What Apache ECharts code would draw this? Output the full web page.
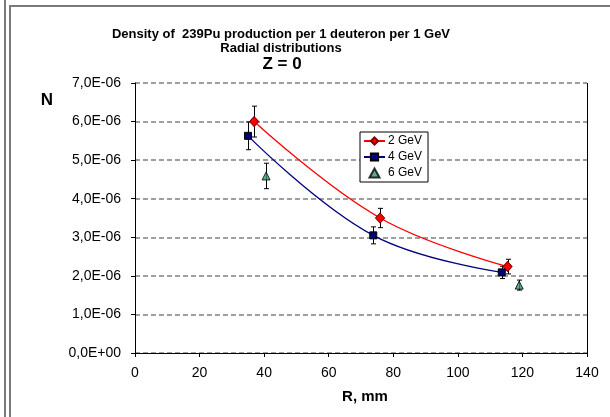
<!DOCTYPE html>
<html>
<head>
<meta charset="utf-8">
<script src="https://cdn.jsdelivr.net/npm/echarts@6/dist/echarts.min.js"></script>
<style>
  html, body { margin: 0; padding: 0; background: #fff; }
  #chart { width: 610px; height: 417px; }
</style>
</head>
<body>
<div id="chart"></div>
<script>
// values
const r2 = [36.9, 75.9, 115.4];
const n2 = [6.0e-6, 3.5e-6, 2.24e-6];
const e2 = [0.40e-6, 0.25e-6, 0.19e-6];

const r4 = [35.0, 73.8, 113.6];
const n4 = [5.63e-6, 3.05e-6, 2.09e-6];
const e4 = [0.36e-6, 0.22e-6, 0.16e-6];

const r6 = [40.6, 119.0];
const n6 = [4.59e-6, 1.76e-6];
const e6 = [0.33e-6, 0.13e-6];

const names = ['2 GeV', '4 GeV', '6 GeV'];

const font = 'Arial, "Liberation Sans", sans-serif';

const pts = (xs, ys) => xs.map((x, i) => [x, ys[i]]);
const errPts = (xs, ys, es) => xs.map((x, i) => [x, ys[i], es[i]]);

// excel style label: 7,0E-06
const sciLabel = (v) => {
  if (Math.abs(v) < 1e-12) return '0,0E+00';
  const s = v.toExponential(1);
  const [m, ex] = s.split('e');
  const n = parseInt(ex, 10);
  const sign = n < 0 ? '-' : '+';
  const pad = String(Math.abs(n)).padStart(2, '0');
  return m.replace('.', ',') + 'E' + sign + pad;
};

// error bars (vertical with small caps)
const errorBars = (xs, ys, es, name) => ({
  type: 'custom',
  name: name + ' err',
  z: 1,
  silent: true,
  renderItem: function (params, api) {
    const x = api.value(0), y = api.value(1), e = api.value(2);
    const top = api.coord([x, y + e]);
    const bot = api.coord([x, y - e]);
    const cx = Math.round(top[0]) + 0.5;
    const w = 2.5;
    const st = { stroke: '#000', lineWidth: 1 };
    return {
      type: 'group',
      children: [
        { type: 'line', shape: { x1: cx, y1: top[1], x2: cx, y2: bot[1] }, style: st },
        { type: 'line', shape: { x1: cx - w, y1: top[1], x2: cx + w, y2: top[1] }, style: st },
        { type: 'line', shape: { x1: cx - w, y1: bot[1], x2: cx + w, y2: bot[1] }, style: st },
      ],
    };
  },
  data: errPts(xs, ys, es),
});

const myChart = echarts.init(document.getElementById('chart'));

const option = {
  backgroundColor: '#fff',
  animation: false,
  textStyle: { fontFamily: font },
  title: [
    {
      text: 'Density of  239Pu production per 1 deuteron per 1 GeV\nRadial distributions',
      left: 276,
      top: 22,
      textAlign: 'center',
      textStyle: { fontFamily: font, fontSize: 13, fontWeight: 'bold', color: '#000', lineHeight: 14 },
    },
    {
      text: 'Z = 0',
      left: 277,
      top: 51,
      textAlign: 'center',
      textStyle: { fontFamily: font, fontSize: 17, fontWeight: 'bold', color: '#000' },
    },
  ],
  grid: { left: 135, right: 23, top: 83, bottom: 64, containLabel: false },
  legend: {
    data: [
      { name: names[0] },
      { name: names[1] },
      { name: names[2], icon: 'path://M5,0 L10,9 L0,9 Z' },
    ],
    orient: 'vertical',
    left: 360,
    top: 132,
    width: 68,
    padding: [3, 6, 3, 3],
    itemGap: 4,
    itemWidth: 21,
    itemHeight: 9,
    backgroundColor: '#fff',
    borderColor: '#000',
    borderWidth: 1,
    borderRadius: 0,
    textStyle: { fontFamily: font, fontSize: 12, color: '#000', padding: [0, 0, 0, -2] },
  },
  xAxis: {
    type: 'value',
    min: 0,
    max: 140,
    interval: 20,
    name: 'R, mm',
    nameLocation: 'middle',
    nameGap: 36,
    nameTextStyle: { fontFamily: font, fontSize: 15, fontWeight: 'bold', color: '#000', padding: [0, 0, 0, 8] },
    axisLine: { show: true, onZero: false, lineStyle: { color: '#000', width: 1 } },
    axisTick: { show: true, inside: false, length: 4, lineStyle: { color: '#000' } },
    axisLabel: { fontFamily: font, fontSize: 14, color: '#000', margin: 13 },
    splitLine: { show: false },
  },
  yAxis: {
    type: 'value',
    min: 0,
    max: 7e-6,
    interval: 1e-6,
    axisLine: { show: true, onZero: false, lineStyle: { color: '#000', width: 1 } },
    axisTick: { show: true, inside: false, length: 4, lineStyle: { color: '#000' } },
    axisLabel: { fontFamily: font, fontSize: 14, color: '#000', margin: 14, formatter: sciLabel },
    splitLine: { show: true, lineStyle: { color: '#808080', type: [5, 3], width: 1.5 } },
  },
  graphic: [
    // outer frames
    { type: 'line', silent: true, shape: { x1: 5, y1: 0, x2: 5, y2: 417 }, style: { stroke: '#7a7a7a', lineWidth: 2 } },
    { type: 'polyline', silent: true, shape: { points: [[10, 417], [10, 6], [610, 6]] }, style: { stroke: '#7a7a7a', lineWidth: 2, fill: null } },
    // right border of plot area
    { type: 'line', silent: true, z: 5, shape: { x1: 587.5, y1: 83, x2: 587.5, y2: 353 }, style: { stroke: '#000', lineWidth: 1 } },
    // y axis name
    { type: 'text', silent: true, x: 47, y: 100, style: { text: 'N', font: 'bold 17px ' + font, fill: '#000', textAlign: 'center', textVerticalAlign: 'middle' } },
  ],
  series: [
    errorBars(r2, n2, e2, names[0]),
    errorBars(r4, n4, e4, names[1]),
    errorBars(r6, n6, e6, names[2]),
    {
      name: names[0],
      type: 'line',
      smooth: 0.4,
      z: 3,
      symbol: 'diamond',
      symbolSize: [9, 10],
      lineStyle: { color: '#ff0000', width: 1.3 },
      itemStyle: { color: '#ff0000', borderColor: '#800000', borderWidth: 1 },
      data: pts(r2, n2),
    },
    {
      name: names[1],
      type: 'line',
      smooth: 0.4,
      z: 3,
      symbol: 'rect',
      symbolSize: 7,
      lineStyle: { color: '#000080', width: 1.3 },
      itemStyle: { color: '#000080', borderColor: '#000', borderWidth: 1 },
      data: pts(r4, n4),
    },
    {
      name: names[2],
      type: 'scatter',
      z: 3,
      symbol: 'triangle',
      symbolSize: 8,
      itemStyle: { color: '#339966', borderColor: '#000', borderWidth: 1 },
      data: pts(r6, n6),
    },
  ],
};

option && myChart.setOption(option);
</script>
</body>
</html>
